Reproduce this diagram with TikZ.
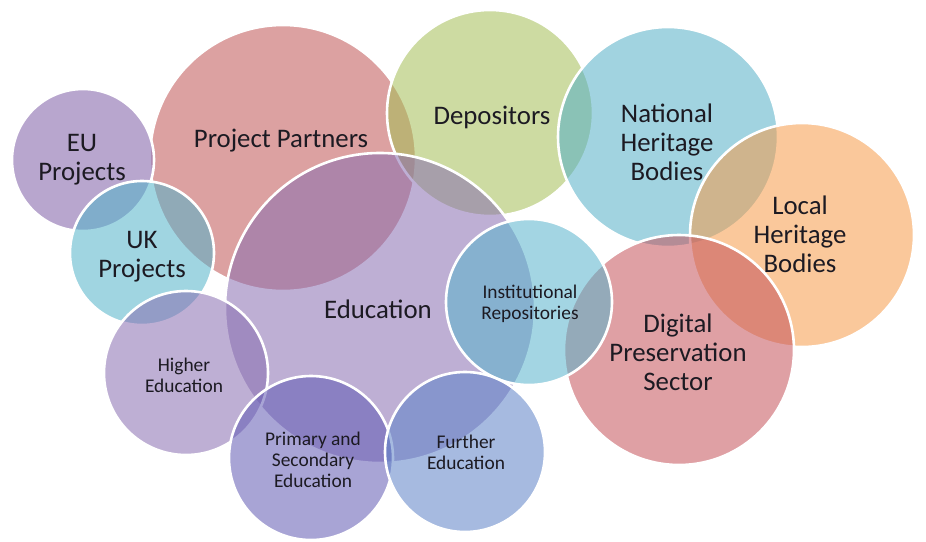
\documentclass[tikz,border=0pt]{standalone}
\usepackage{fontspec}
\setmainfont{Carlito}
\definecolor{ink}{RGB}{28,26,34}
\definecolor{ppC}{RGB}{193,84,84}
\definecolor{euC}{RGB}{126,93,166}
\definecolor{depC}{RGB}{164,191,86}
\definecolor{nhbC}{RGB}{84,175,199}
\definecolor{lhbC}{RGB}{246,155,73}
\definecolor{ukC}{RGB}{82,179,202}
\definecolor{eduC}{RGB}{137,110,177}
\definecolor{dpsC}{RGB}{197,82,90}
\definecolor{irC}{RGB}{88,180,204}
\definecolor{heC}{RGB}{137,110,177}
\definecolor{psC}{RGB}{97,90,180}
\definecolor{feC}{RGB}{93,130,200}
\begin{document}
\begin{tikzpicture}[x=1pt,y=-1pt,
  bubble/.style={circle, draw=white, line width=2.6pt, fill opacity=0.55,
    draw opacity=1, inner sep=0pt, outer sep=0pt},
  bigtext/.style={font=\fontsize{26.8}{29}\selectfont, text=ink, align=center,
    inner sep=0pt, anchor=base},
  smalltext/.style={font=\fontsize{19.4}{21}\selectfont, text=ink, align=center,
    inner sep=0pt, anchor=base}]
% canvas
\fill[white] (0,0) rectangle (926,541);
\useasboundingbox (0,0) rectangle (926,541);

% bubbles, back to front
\node[bubble, fill=ppC,  minimum size=266pt] (pp)  at (283,158) {};
\node[bubble, fill=euC,  minimum size=142pt] (eu)  at (83,160)  {};
\node[bubble, fill=depC, minimum size=206pt] (dep) at (490,113) {};
\node[bubble, fill=nhbC, minimum size=220pt] (nhb) at (668,137) {};
\node[bubble, fill=lhbC, minimum size=224pt] (lhb) at (802,235) {};
\node[bubble, fill=ukC,  minimum size=144pt] (uk)  at (142,253) {};
\node[bubble, fill=eduC, minimum size=310pt] (edu) at (380,308) {};
\node[bubble, fill=dpsC, minimum size=230pt] (dps) at (679,350) {};
\node[bubble, fill=irC,  minimum size=166pt] (ir)  at (529,302) {};
\node[bubble, fill=heC,  minimum size=164pt] (he)  at (186,373) {};
\node[bubble, fill=psC,  minimum size=164pt] (ps)  at (311,458) {};
\node[bubble, fill=feC,  minimum size=160pt] (fe)  at (465,452) {};

% labels (anchored at the baseline of their last line)
\node[bigtext] (ppL)  at (281,147) {Project Partners};
\node[bigtext] (euL)  at (82,180)  {EU\\Projects};
\node[bigtext] (ukL)  at (142,277) {UK\\Projects};
\node[bigtext] (eduL) at (378,318) {Education};
\node[bigtext] (depL) at (492,124) {Depositors};
\node[bigtext] (nhbL) at (667,180) {National\\Heritage\\Bodies};
\node[bigtext] (lhbL) at (800,272) {Local\\Heritage\\Bodies};
\node[bigtext] (dpsL) at (678,390) {Digital\\Preservation\\Sector};
\node[smalltext] (irL) at (530,319) {Institutional\\Repositories};
\node[smalltext] (heL) at (184,392) {Higher\\Education};
\node[smalltext] (psL) at (313,487) {Primary and\\Secondary\\Education};
\node[smalltext] (feL) at (466,469) {Further\\Education};
\end{tikzpicture}
\end{document}
